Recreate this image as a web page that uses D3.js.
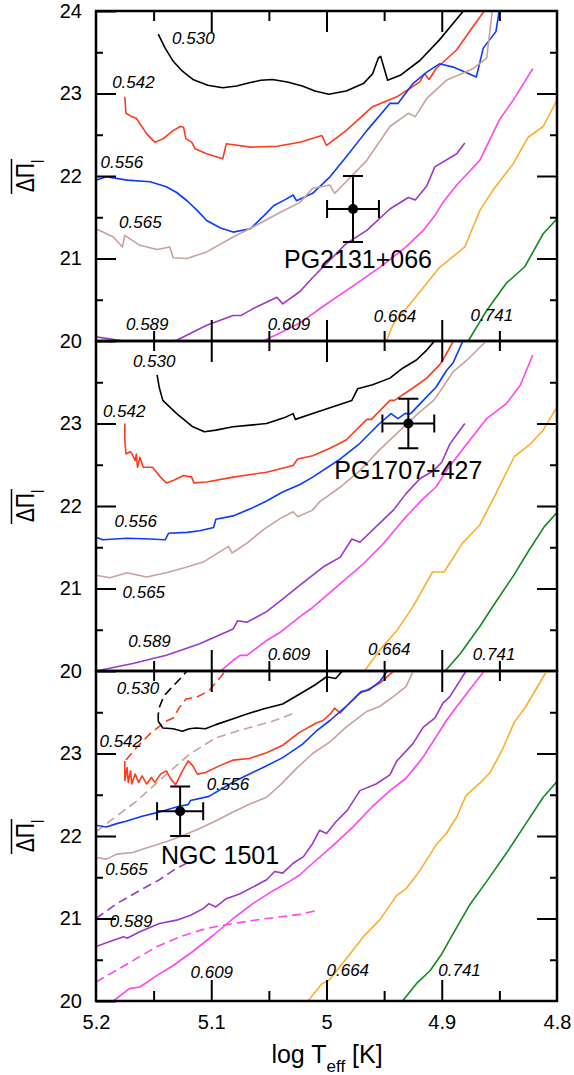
<!DOCTYPE html>
<html>
<head>
<meta charset="utf-8">
<script src="https://cdn.jsdelivr.net/npm/d3@7"></script>
<style>
  body { margin: 0; background: #fff; }
  svg { display: block; }
  text { font-family: "Liberation Sans", Arial, Helvetica, sans-serif; }
</style>
</head>
<body>
<svg width="574" height="1075"></svg>
<script>
// stellar masses of the tracks (Msun)
const masses = ["0.530", "0.542", "0.556", "0.565", "0.589", "0.609", "0.664", "0.741"];

// ---- top panel (PG2131+066) : [log Teff, mean dPi_l] ----
const topM530 = [[5.146,23.72],[5.140,23.55],[5.133,23.39],[5.125,23.27],[5.116,23.17],[5.103,23.10],[5.090,23.07],[5.078,23.09],[5.067,23.13],[5.057,23.16],[5.047,23.17],[5.034,23.14],[5.021,23.09],[5.010,23.03],[4.998,22.99],[4.983,23.03],[4.968,23.12],[4.960,23.24],[4.955,23.43],[4.953,23.45],[4.947,23.16],[4.936,23.22],[4.919,23.40],[4.902,23.65],[4.883,23.97],[4.880,24.02]];
const topM542 = [[5.175,22.96],[5.174,22.76],[5.169,22.72],[5.165,22.70],[5.156,22.51],[5.149,22.41],[5.142,22.45],[5.133,22.55],[5.127,22.60],[5.124,22.59],[5.122,22.45],[5.117,22.41],[5.114,22.33],[5.104,22.27],[5.090,22.21],[5.087,22.39],[5.066,22.35],[5.043,22.36],[5.023,22.41],[5.004,22.49],[5.000,22.37],[4.983,22.55],[4.960,22.84],[4.939,22.96],[4.919,23.14],[4.915,23.24],[4.911,23.17],[4.905,23.30],[4.887,23.53],[4.873,23.81],[4.862,24.02]];
const topM556 = [[5.200,21.95],[5.191,21.99],[5.173,21.95],[5.153,21.93],[5.139,21.87],[5.130,21.80],[5.121,21.70],[5.112,21.58],[5.104,21.46],[5.092,21.37],[5.081,21.32],[5.066,21.36],[5.052,21.55],[5.046,21.64],[5.035,21.72],[5.029,21.77],[5.026,21.70],[5.012,21.79],[4.997,21.99],[4.983,22.23],[4.965,22.55],[4.945,22.88],[4.938,22.88],[4.925,23.12],[4.913,23.26],[4.902,23.36],[4.890,23.32],[4.870,23.20],[4.864,23.55],[4.853,23.75],[4.850,24.02]];
const topM565 = [[5.200,21.36],[5.185,21.26],[5.177,21.14],[5.175,21.28],[5.162,21.16],[5.147,21.11],[5.136,21.14],[5.133,21.01],[5.121,21.00],[5.104,21.08],[5.081,21.26],[5.064,21.38],[5.040,21.56],[5.023,21.68],[5.012,21.85],[4.997,21.89],[4.993,21.79],[4.983,21.93],[4.965,22.19],[4.945,22.60],[4.929,22.76],[4.923,22.72],[4.913,22.94],[4.896,23.16],[4.873,23.30],[4.861,23.43],[4.856,24.02]];
const topM589 = [[5.200,20.05],[5.162,19.97],[5.130,20.01],[5.104,20.19],[5.081,20.31],[5.074,20.31],[5.064,20.39],[5.043,20.53],[5.038,20.45],[5.023,20.60],[5.012,20.77],[4.983,21.18],[4.965,21.34],[4.945,21.60],[4.929,21.74],[4.923,21.71],[4.913,21.88],[4.906,22.11],[4.887,22.27],[4.880,22.40]];
const topM609 = [[5.055,20.00],[5.040,20.10],[5.023,20.22],[5.005,20.40],[4.983,20.61],[4.954,20.89],[4.931,21.14],[4.916,21.34],[4.905,21.54],[4.899,21.68],[4.887,21.89],[4.867,22.19],[4.850,22.68],[4.838,22.92],[4.821,23.30]];
const topM664 = [[4.948,20.00],[4.942,20.21],[4.925,20.49],[4.902,20.89],[4.880,21.14],[4.867,21.58],[4.856,21.82],[4.838,22.15],[4.825,22.47],[4.812,22.60],[4.800,22.92]];
const topM741 = [[4.877,20.00],[4.861,20.37],[4.844,20.70],[4.828,20.90],[4.812,21.30],[4.800,21.48]];

// ---- middle panel (PG1707+427) ----
const midM530 = [[5.147,23.59],[5.145,23.43],[5.142,23.28],[5.130,23.12],[5.116,22.96],[5.106,22.90],[5.096,22.92],[5.081,22.96],[5.066,22.98],[5.052,23.00],[5.035,23.08],[5.029,23.12],[5.027,23.05],[5.012,23.12],[4.997,23.19],[4.978,23.28],[4.973,23.42],[4.960,23.47],[4.945,23.55],[4.935,23.66],[4.922,23.77],[4.913,23.89],[4.905,24.02]];
const midM542 = [[5.175,23.00],[5.175,22.80],[5.174,22.63],[5.170,22.66],[5.168,22.61],[5.166,22.55],[5.165,22.63],[5.164,22.47],[5.162,22.59],[5.159,22.47],[5.151,22.47],[5.144,22.35],[5.139,22.28],[5.133,22.31],[5.124,22.37],[5.117,22.35],[5.115,22.28],[5.104,22.29],[5.081,22.35],[5.052,22.41],[5.029,22.49],[5.025,22.57],[5.012,22.61],[4.997,22.70],[4.983,22.80],[4.965,23.05],[4.961,23.05],[4.945,23.28],[4.941,23.28],[4.925,23.43],[4.913,23.55],[4.902,23.71],[4.899,23.77],[4.889,24.02]];
const midM556 = [[5.200,21.62],[5.194,21.59],[5.173,21.61],[5.153,21.60],[5.140,21.59],[5.137,21.67],[5.121,21.68],[5.110,21.70],[5.098,21.74],[5.096,21.84],[5.081,21.88],[5.064,21.98],[5.052,22.06],[5.038,22.17],[5.023,22.26],[5.012,22.35],[4.988,22.57],[4.971,22.76],[4.954,23.00],[4.944,23.12],[4.938,23.06],[4.932,23.12],[4.927,23.12],[4.916,23.28],[4.905,23.44],[4.896,23.64],[4.890,23.74],[4.881,24.02]];
const midM565 = [[5.200,21.16],[5.188,21.13],[5.173,21.19],[5.156,21.14],[5.139,21.19],[5.121,21.26],[5.107,21.32],[5.092,21.45],[5.085,21.51],[5.082,21.43],[5.069,21.55],[5.055,21.71],[5.040,21.85],[5.029,21.93],[5.025,21.87],[5.012,21.95],[5.006,22.05],[4.988,22.23],[4.971,22.43],[4.954,22.68],[4.936,22.92],[4.919,23.14],[4.907,23.28],[4.899,23.44],[4.890,23.63],[4.878,23.77],[4.860,24.02]];
const midM589 = [[5.200,20.00],[5.168,20.09],[5.139,20.19],[5.110,20.33],[5.081,20.51],[5.077,20.61],[5.069,20.59],[5.052,20.72],[5.040,20.85],[5.023,21.04],[5.003,21.26],[4.988,21.38],[4.978,21.60],[4.971,21.56],[4.954,21.79],[4.942,21.95],[4.931,22.15],[4.919,22.33],[4.907,22.43],[4.900,22.53],[4.893,22.75],[4.880,23.00]];
const midM609 = [[5.092,20.00],[5.081,20.13],[5.075,20.19],[5.069,20.19],[5.052,20.37],[5.040,20.47],[5.023,20.66],[5.012,20.77],[4.988,21.06],[4.968,21.30],[4.951,21.54],[4.931,21.87],[4.916,22.09],[4.905,22.23],[4.896,22.43],[4.879,22.74],[4.861,23.06],[4.844,23.24],[4.832,23.46],[4.821,23.83]];
const midM664 = [[4.967,20.00],[4.954,20.25],[4.939,20.49],[4.925,20.78],[4.908,21.20],[4.898,21.20],[4.882,21.55],[4.867,21.77],[4.853,22.15],[4.837,22.60],[4.824,22.74],[4.812,22.92],[4.800,23.20]];
const midM741 = [[4.897,20.00],[4.884,20.21],[4.867,20.54],[4.853,20.84],[4.838,21.15],[4.824,21.47],[4.811,21.75],[4.800,21.92]];

// ---- bottom panel (NGC 1501) ----
const botM530 = [[5.146,23.39],[5.142,23.31],[5.133,23.30],[5.125,23.27],[5.119,23.30],[5.113,23.31],[5.105,23.30],[5.096,23.35],[5.079,23.43],[5.071,23.47],[5.055,23.54],[5.038,23.60],[5.021,23.74],[5.009,23.84],[5.000,23.93],[4.992,23.91],[4.985,24.02]];
const botM542 = [[5.175,22.91],[5.175,22.67],[5.173,22.83],[5.172,22.65],[5.170,22.79],[5.169,22.63],[5.166,22.75],[5.163,22.65],[5.160,22.73],[5.156,22.63],[5.152,22.71],[5.149,22.65],[5.144,22.75],[5.139,22.79],[5.135,22.69],[5.131,22.62],[5.125,22.79],[5.120,22.91],[5.116,22.85],[5.112,22.75],[5.105,22.77],[5.093,22.85],[5.081,22.92],[5.067,22.94],[5.052,23.01],[5.038,23.10],[5.024,23.25],[5.009,23.37],[5.003,23.40],[4.996,23.49],[4.993,23.55],[4.988,23.49],[4.983,23.57],[4.971,23.73],[4.965,23.77],[4.954,23.85],[4.940,24.02]];
const botM556 = [[5.200,22.13],[5.191,22.11],[5.182,22.15],[5.174,22.18],[5.160,22.24],[5.148,22.28],[5.128,22.36],[5.120,22.38],[5.118,22.43],[5.102,22.48],[5.079,22.67],[5.055,22.83],[5.038,22.95],[5.021,23.11],[5.009,23.27],[4.997,23.40],[4.983,23.57],[4.970,23.75],[4.963,23.77],[4.954,23.87],[4.946,24.02]];
const botM565 = [[5.200,21.74],[5.191,21.72],[5.182,21.78],[5.168,21.80],[5.153,21.87],[5.139,21.93],[5.124,22.01],[5.110,22.09],[5.095,22.19],[5.081,22.29],[5.066,22.39],[5.052,22.47],[5.040,22.62],[5.026,22.82],[5.012,23.00],[4.997,23.14],[4.983,23.32],[4.965,23.51],[4.954,23.57],[4.942,23.69],[4.931,23.81],[4.924,24.02]];
const botM589 = [[5.200,20.66],[5.188,20.72],[5.176,20.78],[5.173,20.76],[5.162,20.84],[5.145,20.94],[5.130,20.98],[5.118,21.04],[5.107,21.12],[5.102,21.18],[5.096,21.14],[5.087,21.24],[5.075,21.30],[5.064,21.38],[5.052,21.47],[5.045,21.57],[5.038,21.55],[5.029,21.67],[5.020,21.75],[5.012,21.91],[5.006,22.07],[5.000,22.03],[4.992,22.17],[4.982,22.31],[4.971,22.55],[4.957,22.63],[4.945,22.74],[4.939,22.91],[4.925,23.12],[4.916,23.32],[4.906,23.43],[4.899,23.61],[4.893,23.69],[4.878,24.02]];
const botM609 = [[5.185,20.00],[5.171,20.15],[5.162,20.17],[5.147,20.31],[5.133,20.43],[5.116,20.60],[5.098,20.80],[5.081,21.00],[5.064,21.18],[5.046,21.34],[5.032,21.45],[5.023,21.53],[5.012,21.67],[4.994,21.89],[4.977,22.11],[4.960,22.36],[4.945,22.55],[4.931,22.70],[4.916,22.96],[4.905,23.20],[4.896,23.40],[4.887,23.57],[4.876,23.77],[4.862,24.02]];
const botM664 = [[5.016,20.00],[5.004,20.21],[4.998,20.25],[4.983,20.51],[4.968,20.78],[4.954,20.98],[4.939,21.28],[4.931,21.36],[4.919,21.58],[4.905,21.89],[4.896,22.03],[4.887,22.23],[4.879,22.49],[4.867,22.64],[4.858,22.77],[4.847,23.06],[4.837,23.38],[4.827,23.57],[4.809,24.00]];
const botM741 = [[4.934,20.00],[4.922,20.21],[4.910,20.37],[4.900,20.57],[4.890,20.82],[4.876,21.16],[4.861,21.45],[4.844,21.79],[4.827,22.15],[4.812,22.47],[4.800,22.66]];
// dashed tracks, bottom panel only
const botM530d = [[5.146,23.39],[5.146,23.47],[5.145,23.56],[5.141,23.70],[5.133,23.82],[5.126,23.92],[5.120,24.02]];
const botM542d = [[5.174,22.92],[5.165,23.07],[5.153,23.24],[5.145,23.33],[5.138,23.40],[5.133,23.43],[5.128,23.55],[5.122,23.66],[5.113,23.68],[5.102,23.76],[5.090,23.96],[5.088,24.02]];
const botM565d = [[5.200,22.05],[5.188,22.18],[5.165,22.42],[5.142,22.71],[5.119,22.99],[5.096,23.19],[5.073,23.29],[5.047,23.39],[5.026,23.50]];
const botM589d = [[5.200,21.00],[5.182,21.18],[5.162,21.34],[5.145,21.47],[5.130,21.61],[5.120,21.68]];
const botM609d = [[5.200,20.23],[5.185,20.35],[5.168,20.49],[5.147,20.66],[5.127,20.78],[5.104,20.88],[5.081,20.94],[5.052,21.00],[5.023,21.05],[5.007,21.10]];

// observed stars
const starNames = ["PG2131+066", "PG1707+427", "NGC 1501"];
const starLogT = [4.977, 4.929, 5.127];
const starErrT = [0.0225, 0.0225, 0.020];
const starDPi = [21.6, 23.0, 22.3];
const starErrDPi = [0.4, 0.3, 0.3];

// ---------------- layout ----------------
const colors = ["#000000", "#ff3b1d", "#0b3bff", "#c9a19e", "#9b37cc", "#ff45f0", "#ffae2c", "#138a1c"];
const left = 96, right = 557, panelH = 330;
const tops = [11, 341, 671];

const panels = [
  { solid: [topM530, topM542, topM556, topM565, topM589, topM609, topM664, topM741], dashed: [] },
  { solid: [midM530, midM542, midM556, midM565, midM589, midM609, midM664, midM741], dashed: [] },
  { solid: [botM530, botM542, botM556, botM565, botM589, botM609, botM664, botM741],
    dashed: [[0, botM530d], [1, botM542d], [3, botM565d], [4, botM589d], [5, botM609d]] }
];

// where the mass labels sit, in data units (left edge, baseline)
const labelAt = [
  [[5.134,23.60],[5.186,23.07],[5.196,22.10],[5.180,21.37],[5.174,20.13],[5.051,20.13],[4.959,20.23],[4.875,20.24]],
  [[5.168,23.68],[5.194,23.08],[5.184,21.75],[5.177,20.88],[5.172,20.29],[5.051,20.13],[4.964,20.19],[4.873,20.13]],
  [[5.182,23.72],[5.197,23.08],[5.104,22.56],[5.192,21.53],[5.188,20.90],[5.118,20.28],[5.000,20.30],[4.903,20.30]]
];
const starLabelOffset = [[5, 59], [0, 55], [40, 53]];

const svg = d3.select("svg");
const x = d3.scaleLinear().domain([5.2, 4.8]).range([left, right]);

panels.forEach((p, i) => {
  const top = tops[i];
  const y = d3.scaleLinear().domain([20, 24]).range([top + panelH, top]);
  const g = svg.append("g");

  g.append("clipPath").attr("id", "clip" + i)
    .append("rect").attr("x", left).attr("y", top).attr("width", right - left).attr("height", panelH);

  const line = d3.line().x(d => x(d[0])).y(d => y(d[1]));
  const plot = g.append("g").attr("clip-path", `url(#clip${i})`);

  p.dashed.forEach(([m, data]) => {
    plot.append("path").attr("d", line(data)).attr("fill", "none")
      .attr("stroke", colors[m]).attr("stroke-width", 1.6).attr("stroke-dasharray", "9,5");
  });
  p.solid.forEach((data, m) => {
    plot.append("path").attr("d", line(data)).attr("fill", "none")
      .attr("stroke", colors[m]).attr("stroke-width", 1.6).attr("stroke-linejoin", "round");
  });

  // mass labels
  labelAt[i].forEach((pos, m) => {
    g.append("text").attr("x", x(pos[0])).attr("y", y(pos[1]))
      .attr("font-size", 17).attr("font-style", "italic").attr("fill", "#000")
      .text(masses[m]);
  });

  // star with error bars
  const sx = x(starLogT[i]), sy = y(starDPi[i]);
  const x0 = x(starLogT[i] + starErrT[i]), x1 = x(starLogT[i] - starErrT[i]);
  const y0 = y(starDPi[i] + starErrDPi[i]), y1 = y(starDPi[i] - starErrDPi[i]);
  const eb = g.append("g").attr("stroke", "#000").attr("stroke-width", 2);
  eb.append("line").attr("x1", x0).attr("x2", x1).attr("y1", sy).attr("y2", sy);
  eb.append("line").attr("x1", x0).attr("x2", x0).attr("y1", sy - 9).attr("y2", sy + 9);
  eb.append("line").attr("x1", x1).attr("x2", x1).attr("y1", sy - 9).attr("y2", sy + 9);
  eb.append("line").attr("x1", sx).attr("x2", sx).attr("y1", y0).attr("y2", y1);
  eb.append("line").attr("x1", sx - 10).attr("x2", sx + 10).attr("y1", y0).attr("y2", y0);
  eb.append("line").attr("x1", sx - 10).attr("x2", sx + 10).attr("y1", y1).attr("y2", y1);
  g.append("circle").attr("cx", sx).attr("cy", sy).attr("r", 5).attr("fill", "#000");
  g.append("text").attr("x", sx + starLabelOffset[i][0]).attr("y", sy + starLabelOffset[i][1])
    .attr("text-anchor", "middle").attr("font-size", 25).text(starNames[i]);

  // axes (ticks inside on all four sides)
  const styleAxis = sel => {
    sel.select(".domain").remove();
    sel.selectAll(".tick line").attr("stroke", "#000").attr("stroke-width", 2);
    sel.selectAll("text").attr("font-size", 20).attr("fill", "#000")
      .attr("font-family", "'Liberation Sans', Arial, sans-serif");
  };
  const yMajor = i === 0 ? [20, 21, 22, 23, 24] : [20, 21, 22, 23];
  const yMinor = [20.5, 21.5, 22.5, 23.5];
  g.append("g").attr("transform", `translate(${left},0)`)
    .call(d3.axisLeft(y).tickValues(yMajor).tickSize(-20).tickPadding(14).tickFormat(d3.format("d"))).call(styleAxis);
  g.append("g").attr("transform", `translate(${left},0)`)
    .call(d3.axisLeft(y).tickValues(yMinor).tickSize(-7).tickFormat("")).call(styleAxis);
  g.append("g").attr("transform", `translate(${right},0)`)
    .call(d3.axisRight(y).tickValues([21, 22, 23]).tickSize(-20).tickFormat("")).call(styleAxis);
  g.append("g").attr("transform", `translate(${right},0)`)
    .call(d3.axisRight(y).tickValues(yMinor).tickSize(-7).tickFormat("")).call(styleAxis);

  const xMajor = [5.1, 5.0, 4.9], xMinor = [5.15, 5.05, 4.95, 4.85];
  g.append("g").attr("transform", `translate(0,${top})`)
    .call(d3.axisTop(x).tickValues(xMajor).tickSize(-21).tickFormat("")).call(styleAxis);
  g.append("g").attr("transform", `translate(0,${top})`)
    .call(d3.axisTop(x).tickValues(xMinor).tickSize(-10).tickFormat("")).call(styleAxis);
  const last = i === panels.length - 1;
  g.append("g").attr("transform", `translate(0,${top + panelH})`)
    .call(d3.axisBottom(x).tickValues(last ? [5.2, 5.1, 5.0, 4.9, 4.8] : xMajor)
      .tickSize(-21).tickPadding(14).tickFormat(last ? d3.format("~g") : ""))
    .call(styleAxis)
    .call(s => s.selectAll(".tick line").filter(d => d === 5.2 || d === 4.8).remove());
  g.append("g").attr("transform", `translate(0,${top + panelH})`)
    .call(d3.axisBottom(x).tickValues(xMinor).tickSize(-10).tickFormat("")).call(styleAxis);

  // frame
  g.append("rect").attr("x", left).attr("y", top).attr("width", right - left).attr("height", panelH)
    .attr("fill", "none").attr("stroke", "#000").attr("stroke-width", 2.5);

  // y title: overlined Delta Pi with subscript l
  const cy = top + panelH / 2;
  const tg = g.append("g").attr("transform", `translate(34,${cy}) rotate(-90) scale(1,1.25)`);
  const t = tg.append("text").attr("text-anchor", "middle").attr("x", 0).attr("y", 0)
    .attr("font-family", "'Liberation Serif', 'Times New Roman', serif").attr("font-size", 21);
  t.append("tspan").text("ΔΠ");
  t.append("tspan").attr("font-size", 14).attr("dy", 8).text("l");
  tg.append("line").attr("x1", -18).attr("x2", 17).attr("y1", -18).attr("y2", -18)
    .attr("stroke", "#000").attr("stroke-width", 1.2);
});

// x title
const xt = svg.append("text").attr("x", 327).attr("y", 1063).attr("text-anchor", "middle").attr("font-size", 25);
xt.append("tspan").text("log T");
xt.append("tspan").attr("font-size", 17).attr("dy", 9).text("eff");
xt.append("tspan").attr("dy", -9).text(" [K]");
</script>
</body>
</html>
